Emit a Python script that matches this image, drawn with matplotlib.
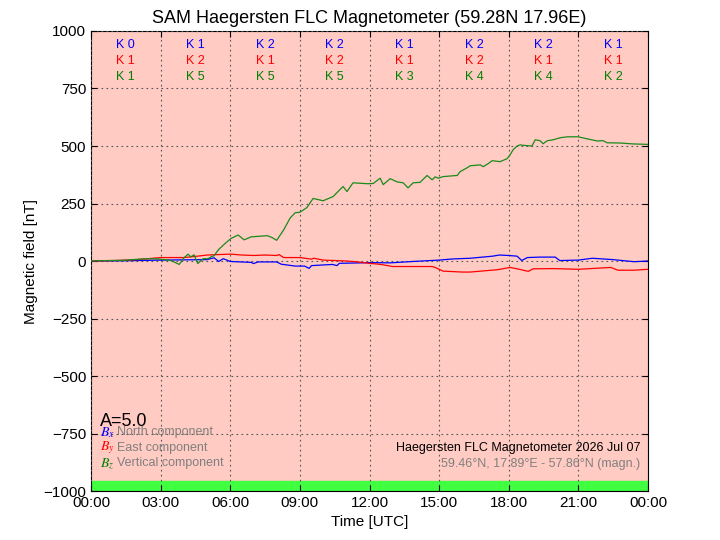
import matplotlib
matplotlib.use("Agg")
import matplotlib.pyplot as plt

plt.rcParams['font.family'] = ['Liberation Sans', 'DejaVu Sans']
plt.rcParams['mathtext.fontset'] = 'stix'

# hours after 00:00 UTC and field values in nT
bz_t = [0.0, 0.7, 1.4, 2.2, 2.7, 3.2, 3.45, 3.8, 4.0, 4.18, 4.3, 4.44, 4.6, 4.83, 5.04,
        5.17, 5.3, 5.5, 5.73, 6.03, 6.34, 6.6, 6.9, 7.3, 7.6, 7.8, 8.0, 8.3, 8.58, 8.8,
        9.0, 9.3, 9.57, 10.0, 10.43, 10.86, 11.03, 11.29, 11.6, 11.9, 12.16, 12.46, 12.59,
        12.89, 13.19, 13.45, 13.66, 13.88, 14.18, 14.48, 14.7, 14.83, 14.96, 15.17, 15.78,
        15.9, 16.2, 16.34, 16.77, 16.9, 17.11, 17.28, 17.63, 17.93, 18.06, 18.19, 18.36,
        18.49, 18.62, 19.0, 19.14, 19.35, 19.48, 19.66, 19.91, 20.22, 20.52, 20.99, 21.38,
        21.81, 22.07, 22.24, 22.8, 23.36, 24.0]
bz = [0, 2, 3, 9, 10, 6, 2, -15, 13, 30, 18, 27, -11, 10, 10,
      18, 23, 50, 72, 98, 113, 92, 105, 108, 110, 102, 90, 135, 187, 210,
      212, 232, 272, 262, 280, 324, 302, 340, 338, 336, 337, 360, 332,
      358, 344, 340, 318, 340, 342, 372, 353, 366, 360, 367, 372,
      388, 405, 414, 418, 410, 423, 436, 432, 445, 462, 484, 500,
      505, 503, 500, 527, 523, 510, 523, 527, 536, 540, 540, 531,
      522, 523, 514, 513, 509, 507]

by_t = [0.0, 1.0, 2.0, 3.0, 4.0, 4.5, 5.0, 5.5, 6.0, 6.5, 7.0, 7.5, 8.0, 8.1, 8.3, 9.0,
        9.5, 9.6, 10.0, 10.5, 11.0, 11.5, 12.0, 12.5, 13.0, 14.0, 14.7, 14.83, 15.17, 16.0,
        16.34, 17.5, 18.06, 18.5, 18.84, 19.05, 19.9, 21.0, 22.4, 22.7, 23.4, 24.0]
by = [0, 2, 6, 15, 15, 20, 26, 28, 30, 26, 24, 26, 24, 28, 15, 15,
      8, 12, 4, 2, 0, -4, -10, -15, -24, -24, -24, -28, -44, -48,
      -48, -38, -28, -37, -45, -34, -33, -36, -28, -40, -40, -36]

bx_t = [0.0, 1.5, 3.0, 4.0, 5.0, 5.3, 5.5, 5.7, 6.0, 6.9, 7.0, 7.2, 8.0, 8.2, 8.8, 9.2,
        9.4, 9.5, 10.4, 10.6, 10.7, 11.7, 12.0, 12.9, 13.88, 15.0, 15.6, 16.34, 17.3, 17.6,
        18.0, 18.36, 18.56, 18.8, 19.35, 20.0, 20.2, 21.0, 21.6, 22.5, 23.4, 24.0]
bx = [0, 1, 4, 5, 6, 14, -2, 10, -2, -6, -11, -4, -4, -14, -22, -22,
      -32, -20, -15, -20, -10, -8, -7, -8, -2, 4, 9, 12, 21, 26,
      24, 21, 2, 15, 17, 17, 2, 4, 12, 6, -3, 0]

# K indices per 3-hour block
k_x = [0, 1, 2, 2, 1, 2, 2, 1]
k_y = [1, 2, 1, 2, 1, 2, 1, 1]
k_z = [1, 5, 5, 5, 3, 4, 4, 2]

xticks = list(range(0, 25, 3))
xticklabels = ['00:00', '03:00', '06:00', '09:00', '12:00', '15:00', '18:00', '21:00', '00:00']
yticks = [-1000, -750, -500, -250, 0, 250, 500, 750, 1000]

fig = plt.figure(figsize=(7.2, 5.4), dpi=100)
ax = fig.add_axes([0.1264, 0.0907, 0.7736, 0.8519])
ax.set_facecolor('#ffcbc2')

ax.axhspan(-1000, -958, color='#40ff40', zorder=1)

ax.plot(bx_t, bx, color='blue', lw=0.9, zorder=3)
ax.plot(by_t, by, color='red', lw=0.9, zorder=3)
ax.plot(bz_t, bz, color='#1a8a1a', lw=0.9, zorder=3)

for i in range(8):
    xc = i * 3 + 1.5
    ax.text(xc, 940, f'K {k_x[i]}', color='blue', ha='center', va='center', fontsize=9)
    ax.text(xc, 870, f'K {k_y[i]}', color='red', ha='center', va='center', fontsize=9)
    ax.text(xc, 800, f'K {k_z[i]}', color='green', ha='center', va='center', fontsize=9)

ax.set_xlim(0, 24)
ax.set_ylim(-1000, 1000)
ax.set_xticks(xticks)
ax.set_xticklabels(xticklabels)
ax.set_yticks(yticks)
ax.tick_params(direction='in', top=True, right=True, labelsize=11, length=4)
ax.grid(True, linestyle=(0, (1.5, 3)), color='#555555', lw=0.8, zorder=2)
ax.set_axisbelow(False)

ax.set_xlabel('Time [UTC]', fontsize=11)
ax.set_ylabel('Magnetic field [nT]', fontsize=11)
ax.set_title('SAM Haegersten FLC Magnetometer (59.28N 17.96E)', fontsize=13)

tr = ax.transAxes
ax.text(0.016, 0.152, 'A=5.0', transform=tr, fontsize=13, va='center')
legend_rows = [('$B_x$', 'blue', 'North component', 0.128),
               ('$B_y$', 'red', 'East component', 0.094),
               ('$B_z$', 'green', 'Vertical component', 0.060)]
for sym, col, lab, yy in legend_rows:
    ax.text(0.016, yy, sym, transform=tr, color=col, fontsize=10, va='center')
    ax.text(0.047, yy, lab, transform=tr, color='gray', fontsize=9, va='center')

ax.text(0.986, 0.094, 'Haegersten FLC Magnetometer 2026 Jul 07', transform=tr,
        fontsize=9, ha='right', va='center')
ax.text(0.986, 0.058, '59.46°N, 17.89°E - 57.86°N (magn.)', transform=tr,
        fontsize=9, ha='right', va='center', color='gray')

plt.savefig('out.png', dpi=100)
